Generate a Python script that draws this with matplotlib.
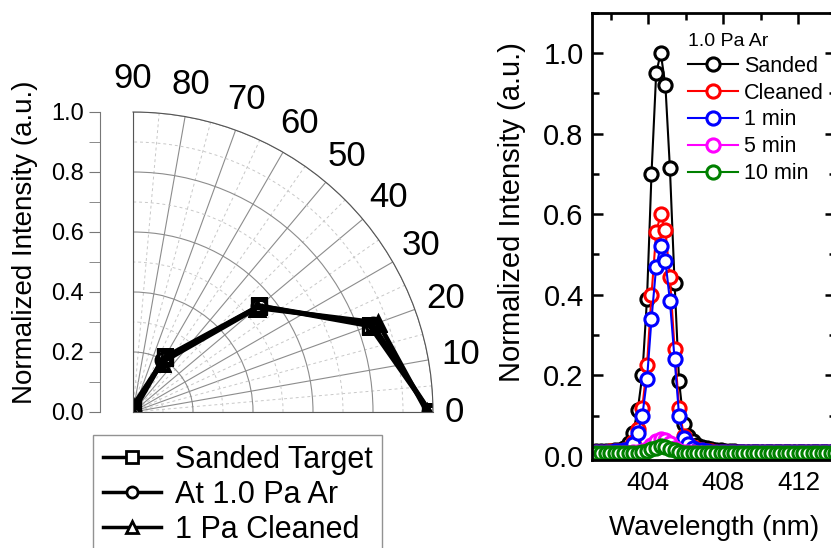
import numpy as np
import matplotlib
matplotlib.use("Agg")
import matplotlib.pyplot as plt
from matplotlib.ticker import MultipleLocator, FormatStrFormatter
from matplotlib.lines import Line2D

plt.rcParams['font.family'] = ['Liberation Sans', 'DejaVu Sans']

# angular distribution (angle in degrees, normalized intensity)
angles = [0, 20, 40, 60, 90]
sanded_target = [0.99, 0.84, 0.55, 0.21, 0.01]
at_1pa_ar = [0.99, 0.85, 0.55, 0.20, 0.0]
cleaned_1pa = [0.98, 0.87, 0.54, 0.19, 0.02]
polar_labels = ['Sanded Target', 'At 1.0 Pa Ar', '1 Pa Cleaned']
angle_ticks = [0, 10, 20, 30, 40, 50, 60, 70, 80, 90]

# spectra around 405 nm
wavelength = [401.23, 401.48, 401.72, 401.97, 402.21, 402.46, 402.70, 402.95, 403.19, 403.44,
              403.68, 403.93, 404.17, 404.42, 404.66, 404.91, 405.15, 405.40, 405.64, 405.89,
              406.13, 406.38, 406.62, 406.87, 407.11, 407.36, 407.60, 407.85, 408.09, 408.34,
              408.58, 408.83, 409.07, 409.32, 409.56, 409.81, 410.05, 410.30, 410.54, 410.79,
              411.03, 411.28, 411.52, 411.77, 412.01, 412.26, 412.50, 412.75, 412.99, 413.24,
              413.48, 413.73, 413.97]
sanded = [0.012, 0.012, 0.013, 0.013, 0.014, 0.016, 0.020, 0.032, 0.058, 0.115,
          0.200, 0.390, 0.700, 0.950, 1.000, 0.920, 0.715, 0.430, 0.185, 0.080,
          0.050, 0.036, 0.028, 0.023, 0.020, 0.017, 0.015, 0.014, 0.013, 0.012,
          0.012, 0.011, 0.011, 0.011, 0.011, 0.011, 0.011, 0.011, 0.011, 0.011,
          0.011, 0.011, 0.011, 0.010, 0.010, 0.010, 0.010, 0.010, 0.010, 0.010,
          0.010, 0.010, 0.010]
cleaned = [0.011, 0.011, 0.011, 0.012, 0.012, 0.013, 0.015, 0.020, 0.035, 0.068,
           0.120, 0.225, 0.400, 0.555, 0.600, 0.560, 0.445, 0.265, 0.120, 0.050,
           0.030, 0.022, 0.017, 0.015, 0.013, 0.012, 0.011, 0.011, 0.011, 0.010,
           0.010, 0.010, 0.010, 0.010, 0.010, 0.010, 0.010, 0.010, 0.010, 0.010,
           0.010, 0.010, 0.010, 0.010, 0.010, 0.010, 0.010, 0.010, 0.010, 0.010,
           0.010, 0.010, 0.010]
one_min = [0.010, 0.010, 0.011, 0.011, 0.012, 0.012, 0.014, 0.018, 0.030, 0.058,
           0.100, 0.190, 0.340, 0.470, 0.520, 0.485, 0.385, 0.240, 0.100, 0.045,
           0.030, 0.021, 0.016, 0.014, 0.012, 0.011, 0.010, 0.010, 0.010, 0.010,
           0.009, 0.009, 0.009, 0.009, 0.009, 0.009, 0.009, 0.009, 0.009, 0.009,
           0.009, 0.009, 0.009, 0.009, 0.009, 0.009, 0.009, 0.009, 0.009, 0.009,
           0.009, 0.009, 0.009]
five_min = [0.008, 0.008, 0.008, 0.008, 0.008, 0.008, 0.008, 0.008, 0.009, 0.010,
            0.013, 0.018, 0.027, 0.036, 0.042, 0.039, 0.031, 0.021, 0.013, 0.010,
            0.009, 0.009, 0.008, 0.008, 0.008, 0.008, 0.008, 0.008, 0.008, 0.008,
            0.008, 0.008, 0.008, 0.008, 0.008, 0.008, 0.008, 0.008, 0.008, 0.008,
            0.008, 0.008, 0.008, 0.008, 0.008, 0.008, 0.008, 0.008, 0.008, 0.008,
            0.008, 0.008, 0.008]
ten_min = [0.007, 0.007, 0.007, 0.007, 0.007, 0.007, 0.007, 0.007, 0.007, 0.007,
           0.009, 0.012, 0.017, 0.021, 0.024, 0.022, 0.018, 0.014, 0.010, 0.008,
           0.007, 0.007, 0.007, 0.007, 0.007, 0.007, 0.007, 0.007, 0.007, 0.007,
           0.007, 0.007, 0.007, 0.007, 0.007, 0.007, 0.007, 0.007, 0.007, 0.007,
           0.007, 0.007, 0.007, 0.007, 0.007, 0.007, 0.007, 0.007, 0.007, 0.007,
           0.007, 0.007, 0.007]
spectra = [sanded, cleaned, one_min, five_min, ten_min]
spectra_labels = ['Sanded', 'Cleaned', '1 min', '5 min', '10 min']
spectra_colors = ['black', 'red', 'blue', 'magenta', 'green']

W, H = 831, 548
fig = plt.figure(figsize=(W / 100, H / 100), dpi=100)

# ---- polar quarter plot ----
pax = fig.add_axes([133 / W, (H - 412) / H, 300 / W, 300 / H], projection='polar')
pax.set_thetamin(0)
pax.set_thetamax(90)
pax.set_rlim(0, 1.0)
pax.set_thetagrids(angle_ticks, [''] * len(angle_ticks))
pax.xaxis.set_minor_locator(MultipleLocator(np.deg2rad(5)))
pax.set_rticks([0.2, 0.4, 0.6, 0.8, 1.0])
pax.yaxis.set_minor_locator(MultipleLocator(0.1))
pax.set_yticklabels([])
pax.grid(which='major', color='#8c8c8c', lw=0.8, ls='-')
pax.grid(which='minor', color='#c8c8c8', lw=0.7, ls=(0, (3, 3)))
pax.tick_params(axis='x', direction='in', length=6, color='#333333')
pax.tick_params(axis='x', which='minor', length=3)
pax.tick_params(axis='y', length=0, which='both')
for s in pax.spines.values():
    s.set_color('#555555')
    s.set_linewidth(0.8)

# angle labels around the arc
for a in angle_ticks:
    r_lab = 1.07 if a == 0 else 1.11
    pax.text(np.deg2rad(a), r_lab, str(a), fontsize=25, ha='center', va='center')

markers = ['s', 'o', '^']
th = np.deg2rad(angles)
for vals, m in zip([sanded_target, at_1pa_ar, cleaned_1pa], markers):
    pax.plot(th, vals, color='black', lw=3.4, marker=m, ms=10.5, mfc='none', mec='black', mew=2.4)

# radial scale drawn as a separate axis on the left
rax = fig.add_axes([100 / W, (H - 412) / H, 0.02, 300 / H])
rax.patch.set_visible(False)
rax.set_ylim(0, 1.0)
rax.set_xticks([])
for k in ['top', 'right', 'bottom']:
    rax.spines[k].set_visible(False)
rax.spines['left'].set_color('#777777')
rax.yaxis.set_major_locator(MultipleLocator(0.2))
rax.yaxis.set_minor_locator(MultipleLocator(0.1))
rax.yaxis.set_major_formatter(FormatStrFormatter('%.1f'))
rax.tick_params(axis='y', which='both', direction='out', length=8, color='#777777', labelsize=17)
fig.text(25 / W, 1 - 242 / H, 'Normalized Intensity (a.u.)', fontsize=20,
         rotation=90, ha='center', va='center')

handles = [Line2D([], [], color='black', lw=2.5, marker=m, ms=8, mfc='white', mec='black', mew=2)
           for m in markers]
leg = fig.legend(handles, polar_labels, loc='upper left', bbox_to_anchor=(93 / W, 1 - 435 / H),
                 fontsize=22, frameon=True, fancybox=False, edgecolor='#777777',
                 borderaxespad=0, borderpad=0.32, handlelength=1.9, handletextpad=0.45,
                 labelspacing=0.17)
leg.get_frame().set_linewidth(1.0)

# ---- spectra ----
ax = fig.add_axes([592 / W, (H - 460) / H, 244 / W, 447.3 / H])
for vals, lab, col in zip(spectra, spectra_labels, spectra_colors):
    ax.plot(wavelength, vals, color=col, lw=1.5, marker='o', ms=9.5, mfc='white',
            mec=col, mew=2.2, label=lab)
ax.set_xlim(401.0, 414.0)
ax.set_ylim(-0.01, 1.10)
ax.xaxis.set_major_locator(MultipleLocator(4))
ax.xaxis.set_minor_locator(MultipleLocator(2))
ax.yaxis.set_major_locator(MultipleLocator(0.2))
ax.yaxis.set_minor_locator(MultipleLocator(0.1))
ax.yaxis.set_major_formatter(FormatStrFormatter('%.1f'))
ax.tick_params(which='both', direction='in', top=True, right=True, width=1.8, color='black')
ax.tick_params(which='major', length=8)
ax.tick_params(which='minor', length=5)
ax.tick_params(axis='y', labelsize=21, pad=6)
ax.tick_params(axis='x', labelsize=18.5, pad=8)
for s in ax.spines.values():
    s.set_linewidth(2)
ax.set_xlabel('Wavelength (nm)', fontsize=20, labelpad=14)
fig.text(512 / W, 1 - 212 / H, 'Normalized Intensity (a.u.)', fontsize=21,
         rotation=90, ha='center', va='center')

leg2 = ax.legend(loc='upper left', bbox_to_anchor=(688 / W, 1 - 33 / H),
                 bbox_transform=fig.transFigure, title='1.0 Pa Ar', title_fontsize=14,
                 fontsize=15.5, frameon=False, borderaxespad=0, borderpad=0,
                 handlelength=2.3, handletextpad=0.3, labelspacing=0.27, alignment='left')

fig.savefig('out.png', dpi=100)
